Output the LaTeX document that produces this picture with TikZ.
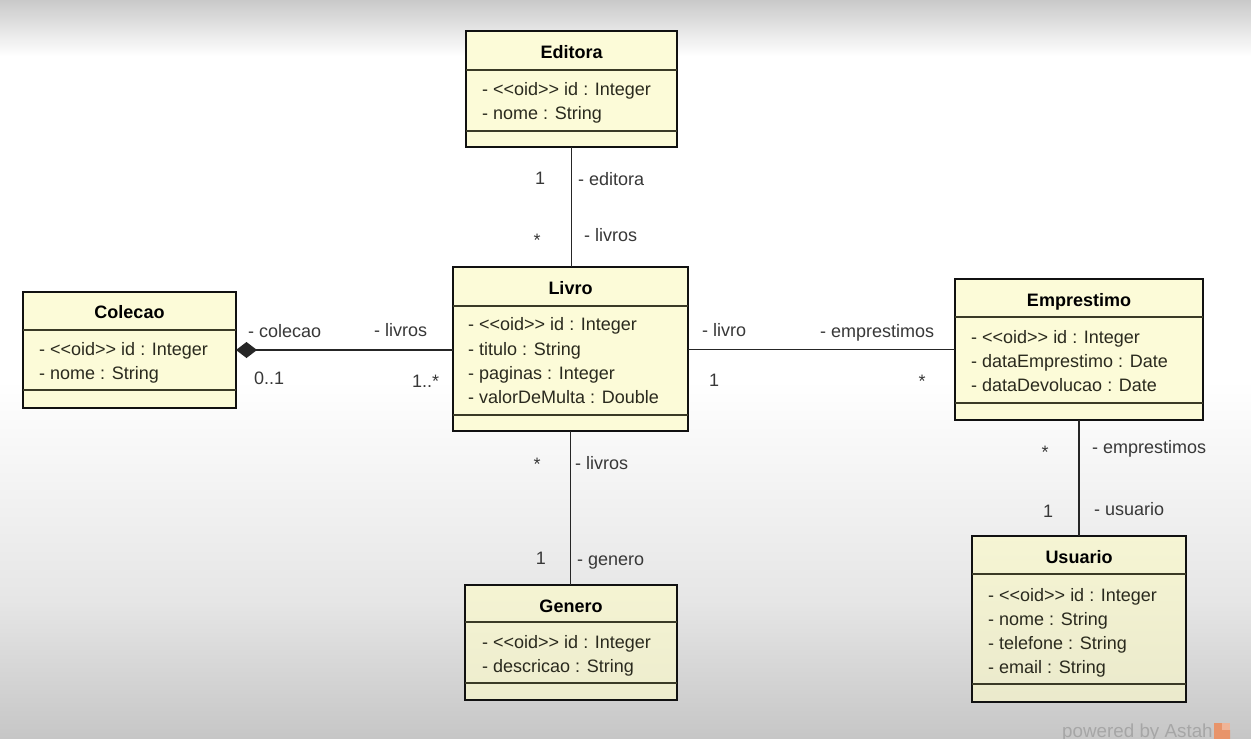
\documentclass[tikz,border=0pt]{standalone}
\usepackage{fontspec}
\newfontfamily\umlf{Liberation Sans}
\usetikzlibrary{arrows.meta}
\definecolor{cream}{HTML}{FCFBD8}
\definecolor{boxline}{HTML}{111111}
\definecolor{sepc}{HTML}{3A3A26}
\definecolor{txt}{HTML}{2A2A1E}
\definecolor{lbltxt}{HTML}{383838}
\definecolor{linec}{HTML}{262626}
\definecolor{bgtop}{HTML}{C9C9C9}
\definecolor{bgmid}{HTML}{E6E6E6}
\definecolor{bgbot}{HTML}{C6C6C6}
\definecolor{astahgray}{HTML}{A6A6A6}
\definecolor{astahorange}{HTML}{E8946A}
\begin{document}
\begin{tikzpicture}[x=1pt,y=-1pt,
  classbox/.style={draw=boxline, line width=2.8pt, fill=cream, inner sep=0pt, outer sep=0pt},
  sepline/.style={draw=sepc, line width=1.8pt},
  ttl/.style={font=\umlf\fontsize{18}{22}\selectfont\bfseries, text=black, inner sep=0pt, anchor=base},
  attr/.style={font=\umlf\fontsize{18}{22}\selectfont, text=txt, inner sep=0pt, anchor=base west},
  lbl/.style={font=\umlf\fontsize{18}{22}\selectfont, text=lbltxt, inner sep=0pt, anchor=base west},
  mult/.style={font=\umlf\fontsize{18}{22}\selectfont, text=lbltxt, inner sep=0pt, anchor=base},
  assoc/.style={draw=linec, line width=1.4pt}]
\useasboundingbox (0,0) rectangle (1251,739);
% background
\fill[white] (0,0) rectangle (1251,739);
\shade[top color=bgtop, bottom color=white] (0,0) rectangle (1251,56);
\shade[top color=white, bottom color=bgmid] (0,380) rectangle (1251,600);
\shade[top color=bgmid, bottom color=bgbot] (0,600) rectangle (1251,739);

% ---------- Editora ----------
\node[classbox, minimum width=211, minimum height=116] (editora) at (571.5,89) {};
\draw[sepline] (466,70) -- (677,70);
\draw[sepline] (466,131) -- (677,131);
\node[ttl] (editoraT) at (571.5,58.5) {Editora};
\node[attr] (editoraA1) at (482,95.5) {- <\kern0pt<oid>\kern0pt> id : Integer};
\node[attr] (editoraA2) at (482,119.5) {- nome : String};

% ---------- Livro ----------
\node[classbox, minimum width=235, minimum height=164] (livro) at (570.5,349) {};
\draw[sepline] (453,306) -- (688,306);
\draw[sepline] (453,415) -- (688,415);
\node[ttl] (livroT) at (570.5,294.5) {Livro};
\node[attr] (livroA1) at (468,330.5) {- <\kern0pt<oid>\kern0pt> id : Integer};
\node[attr] (livroA2) at (468,355.5) {- titulo : String};
\node[attr] (livroA3) at (468,379.5) {- paginas : Integer};
\node[attr] (livroA4) at (468,403.5) {- valorDeMulta : Double};

% ---------- Colecao ----------
\node[classbox, minimum width=213, minimum height=116] (colecao) at (129.5,350) {};
\draw[sepline] (23,330) -- (236,330);
\draw[sepline] (23,390) -- (236,390);
\node[ttl] (colecaoT) at (129.5,318.5) {Colecao};
\node[attr] (colecaoA1) at (39,355.5) {- <\kern0pt<oid>\kern0pt> id : Integer};
\node[attr] (colecaoA2) at (39,379.5) {- nome : String};

% ---------- Emprestimo ----------
\node[classbox, minimum width=248, minimum height=141] (emprestimo) at (1079,349.5) {};
\draw[sepline] (955,317) -- (1203,317);
\draw[sepline] (955,403) -- (1203,403);
\node[ttl] (emprestimoT) at (1079,306.5) {Emprestimo};
\node[attr] (emprestimoA1) at (971,343.5) {- <\kern0pt<oid>\kern0pt> id : Integer};
\node[attr] (emprestimoA2) at (971,367.5) {- dataEmprestimo : Date};
\node[attr] (emprestimoA3) at (971,391.5) {- dataDevolucao : Date};

% ---------- Usuario ----------
\node[classbox, top color=cream!95!gray, bottom color=cream!86!gray, minimum width=214, minimum height=166] (usuario) at (1079,619) {};
\draw[sepline] (972,574) -- (1186,574);
\draw[sepline] (972,684) -- (1186,684);
\node[ttl] (usuarioT) at (1079,563.5) {Usuario};
\node[attr] (usuarioA1) at (988,601.5) {- <\kern0pt<oid>\kern0pt> id : Integer};
\node[attr] (usuarioA2) at (988,625.5) {- nome : String};
\node[attr] (usuarioA3) at (988,649.5) {- telefone : String};
\node[attr] (usuarioA4) at (988,673.5) {- email : String};

% ---------- Genero ----------
\node[classbox, top color=cream!94!gray, bottom color=cream!88!gray, minimum width=212, minimum height=115] (genero) at (571,642.5) {};
\draw[sepline] (465,622) -- (677,622);
\draw[sepline] (465,683) -- (677,683);
\node[ttl] (generoT) at (571,612.5) {Genero};
\node[attr] (generoA1) at (482,648.5) {- <\kern0pt<oid>\kern0pt> id : Integer};
\node[attr] (generoA2) at (482,672.5) {- descricao : String};

% ---------- connectors ----------
\draw[assoc] (editora.south) -- (editora.south |- livro.north);
\draw[assoc, {Diamond[length=21pt,width=16pt]}-] (colecao.east) -- (colecao.east -| livro.west);
\draw[assoc] (livro.east |- emprestimo.west) -- (emprestimo.west);
\draw[assoc] (emprestimo.south) -- (usuario.north);
\draw[assoc] (livro.south) -- (livro.south |- genero.north);

% ---------- labels ----------
\node[mult] (m1) at (540,184.5) {1};
\node[lbl] (l1) at (578,185) {- editora};
\node[mult] (m2) at (537,246) {*};
\node[lbl] (l2) at (584,241) {- livros};

\node[lbl] (l3) at (248,337.5) {- colecao};
\node[lbl] (l4) at (374,336.5) {- livros};
\node[lbl] (m3) at (254,384) {0..1};
\node[lbl] (m4) at (412,387) {1..*};

\node[lbl] (l5) at (702,336.5) {- livro};
\node[lbl] (l6) at (820,337) {- emprestimos};
\node[mult] (m5) at (714,386.5) {1};
\node[mult] (m6) at (922,387) {*};

\node[mult] (m7) at (1045,458) {*};
\node[lbl] (l7) at (1092,453.5) {- emprestimos};
\node[mult] (m8) at (1048,517.5) {1};
\node[lbl] (l8) at (1094,515) {- usuario};

\node[mult] (m9) at (537,470) {*};
\node[lbl] (l9) at (575,469) {- livros};
\node[mult] (m10) at (541,564.5) {1};
\node[lbl] (l10) at (577,565) {- genero};

% ---------- watermark ----------
\node[font=\umlf\fontsize{18.8}{22}\selectfont, text=astahgray, inner sep=0pt, anchor=base west] (astah) at (1062,737) {powered by Astah};
\fill[astahorange] (1214,723) -- (1222,723) -- (1222,730) -- (1230,730) -- (1230,739) -- (1214,739) -- cycle;
\fill[astahorange!70] (1222,723) rectangle (1230,730);
\end{tikzpicture}
\end{document}
